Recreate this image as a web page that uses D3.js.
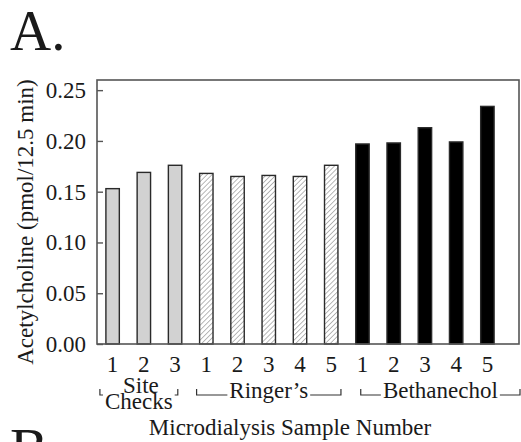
<!DOCTYPE html>
<html>
<head>
<meta charset="utf-8">
<script src="https://cdn.jsdelivr.net/npm/d3@7"></script>
<style>
  body { margin: 0; background: #fff; }
  svg { display: block; font-family: "Liberation Serif", "Times New Roman", serif; }
</style>
</head>
<body>
<svg id="chart" width="521" height="442"></svg>
<script>
// values (pmol / 12.5 min)
const siteValues = [0.153, 0.169, 0.176];
const ringerValues = [0.168, 0.165, 0.166, 0.165, 0.176];
const bethValues = [0.197, 0.198, 0.213, 0.199, 0.234];
const groupNames = ["Site Checks", "Ringer\u2019s", "Bethanechol"];
const yTicks = [0, 0.05, 0.1, 0.15, 0.2, 0.25];

// flatten into one row per bar
const rows = [];
[siteValues, ringerValues, bethValues].forEach((vals, g) => {
  vals.forEach((v, i) => rows.push({ id: g + "-" + i, group: g, label: String(i + 1), value: v }));
});

const svg = d3.select("#chart");
const frame = { left: 97, top: 80, right: 519, bottom: 344 };
const ink = "#1a1a1a";
const fontSize = "23px";

// hatch pattern for Ringer's bars
const defs = svg.append("defs");
const pat = defs.append("pattern")
  .attr("id", "hatch")
  .attr("patternUnits", "userSpaceOnUse")
  .attr("width", 3.5).attr("height", 3.5)
  .attr("patternTransform", "rotate(45)");
pat.append("rect").attr("width", 3.5).attr("height", 3.5).attr("fill", "#fff");
pat.append("line").attr("x1", 0).attr("y1", 0).attr("x2", 0).attr("y2", 3.5)
  .attr("stroke", "#888").attr("stroke-width", 1.2);

const x = d3.scaleBand()
  .domain(rows.map((d) => d.id))
  .range([frame.left, frame.left + 406])
  .paddingInner(0.57)
  .paddingOuter(0.285);

const y = d3.scaleLinear()
  .domain([0, 0.26])
  .range([frame.bottom, frame.top]);

const fills = ["#d2d2d2", "url(#hatch)", "#000"];

// bars
svg.append("g")
  .selectAll("rect")
  .data(rows)
  .join("rect")
  .attr("x", (d) => x(d.id))
  .attr("y", (d) => y(d.value))
  .attr("width", x.bandwidth())
  .attr("height", (d) => y(0) - y(d.value))
  .attr("fill", (d) => fills[d.group])
  .attr("stroke", "#2a2a2a")
  .attr("stroke-width", 1.4);

// frame
svg.append("rect")
  .attr("x", frame.left).attr("y", frame.top)
  .attr("width", frame.right - frame.left)
  .attr("height", frame.bottom - frame.top)
  .attr("fill", "none")
  .attr("stroke", "#555")
  .attr("stroke-width", 1.6);

// y axis, ticks point inward
const yAxis = d3.axisLeft(y).tickValues(yTicks).tickFormat(d3.format(".2f")).tickSize(-6).tickPadding(11);
const yg = svg.append("g").attr("transform", `translate(${frame.left},0)`).call(yAxis);
yg.select(".domain").remove();
yg.selectAll(".tick line").attr("stroke", "#555").attr("stroke-width", 1.4);
yg.selectAll(".tick text")
  .attr("fill", ink)
  .style("font-size", fontSize)
  .style("font-family", "'Liberation Serif', 'Times New Roman', serif");

// x tick labels (no tick marks)
const xAxis = d3.axisBottom(x).tickFormat((id) => rows.find((r) => r.id === id).label).tickSize(0).tickPadding(12);
const xg = svg.append("g").attr("transform", `translate(0,${frame.bottom})`).call(xAxis);
xg.select(".domain").remove();
xg.selectAll(".tick text")
  .attr("fill", ink)
  .style("font-size", fontSize)
  .style("font-family", "'Liberation Serif', 'Times New Roman', serif");

// group brackets
const bw = x.bandwidth();
const bracketY = 395;
const groupSpan = groupNames.map((name, g) => {
  const ids = rows.filter((r) => r.group === g).map((r) => r.id);
  return { g: g, x0: x(ids[0]), x1: x(ids[ids.length - 1]) + bw };
});
// small hand adjustments so the brackets sit like in the figure
groupSpan[0].x0 -= 6; groupSpan[0].x1 -= 4;
groupSpan[1].x0 -= 3; groupSpan[1].x1 += 3;
groupSpan[2].x0 += 5; groupSpan[2].x1 = frame.right + 1;

const br = svg.append("g").attr("fill", ink).style("font-size", fontSize);
groupSpan.forEach((s) => {
  const cx = (s.x0 + s.x1) / 2;
  let gapText;
  if (s.g === 0) {
    br.append("text").attr("x", cx + 2).attr("y", 393).attr("text-anchor", "middle").text("Site");
    gapText = br.append("text").attr("x", cx).attr("y", 409).attr("text-anchor", "middle").text("Checks");
  } else {
    gapText = br.append("text").attr("x", cx).attr("y", 398).attr("text-anchor", "middle").text(groupNames[s.g]);
  }
  const w = gapText.node().getComputedTextLength();
  const t0 = cx - w / 2 - 2;
  const t1 = cx + w / 2 + 2;
  const path = `M${s.x0},${bracketY - 6}V${bracketY}H${t0}M${t1},${bracketY}H${s.x1}V${bracketY - 6}`;
  svg.append("path").attr("d", path).attr("fill", "none").attr("stroke", "#333").attr("stroke-width", 1.2);
});

// axis titles
svg.append("text")
  .attr("x", 290).attr("y", 435)
  .attr("text-anchor", "middle")
  .attr("fill", ink)
  .style("font-size", fontSize)
  .text("Microdialysis Sample Number");

svg.append("text")
  .attr("transform", `translate(33,${(frame.top + frame.bottom) / 2 + 10}) rotate(-90)`)
  .attr("text-anchor", "middle")
  .attr("fill", ink)
  .style("font-size", fontSize)
  .text("Acetylcholine (pmol/12.5 min)");

// panel letters
svg.append("text").attr("x", 10).attr("y", 50).attr("fill", ink).style("font-size", "57px").text("A.");
svg.append("text").attr("x", 10).attr("y", 468).attr("fill", ink).style("font-size", "57px").text("B");
</script>
</body>
</html>
